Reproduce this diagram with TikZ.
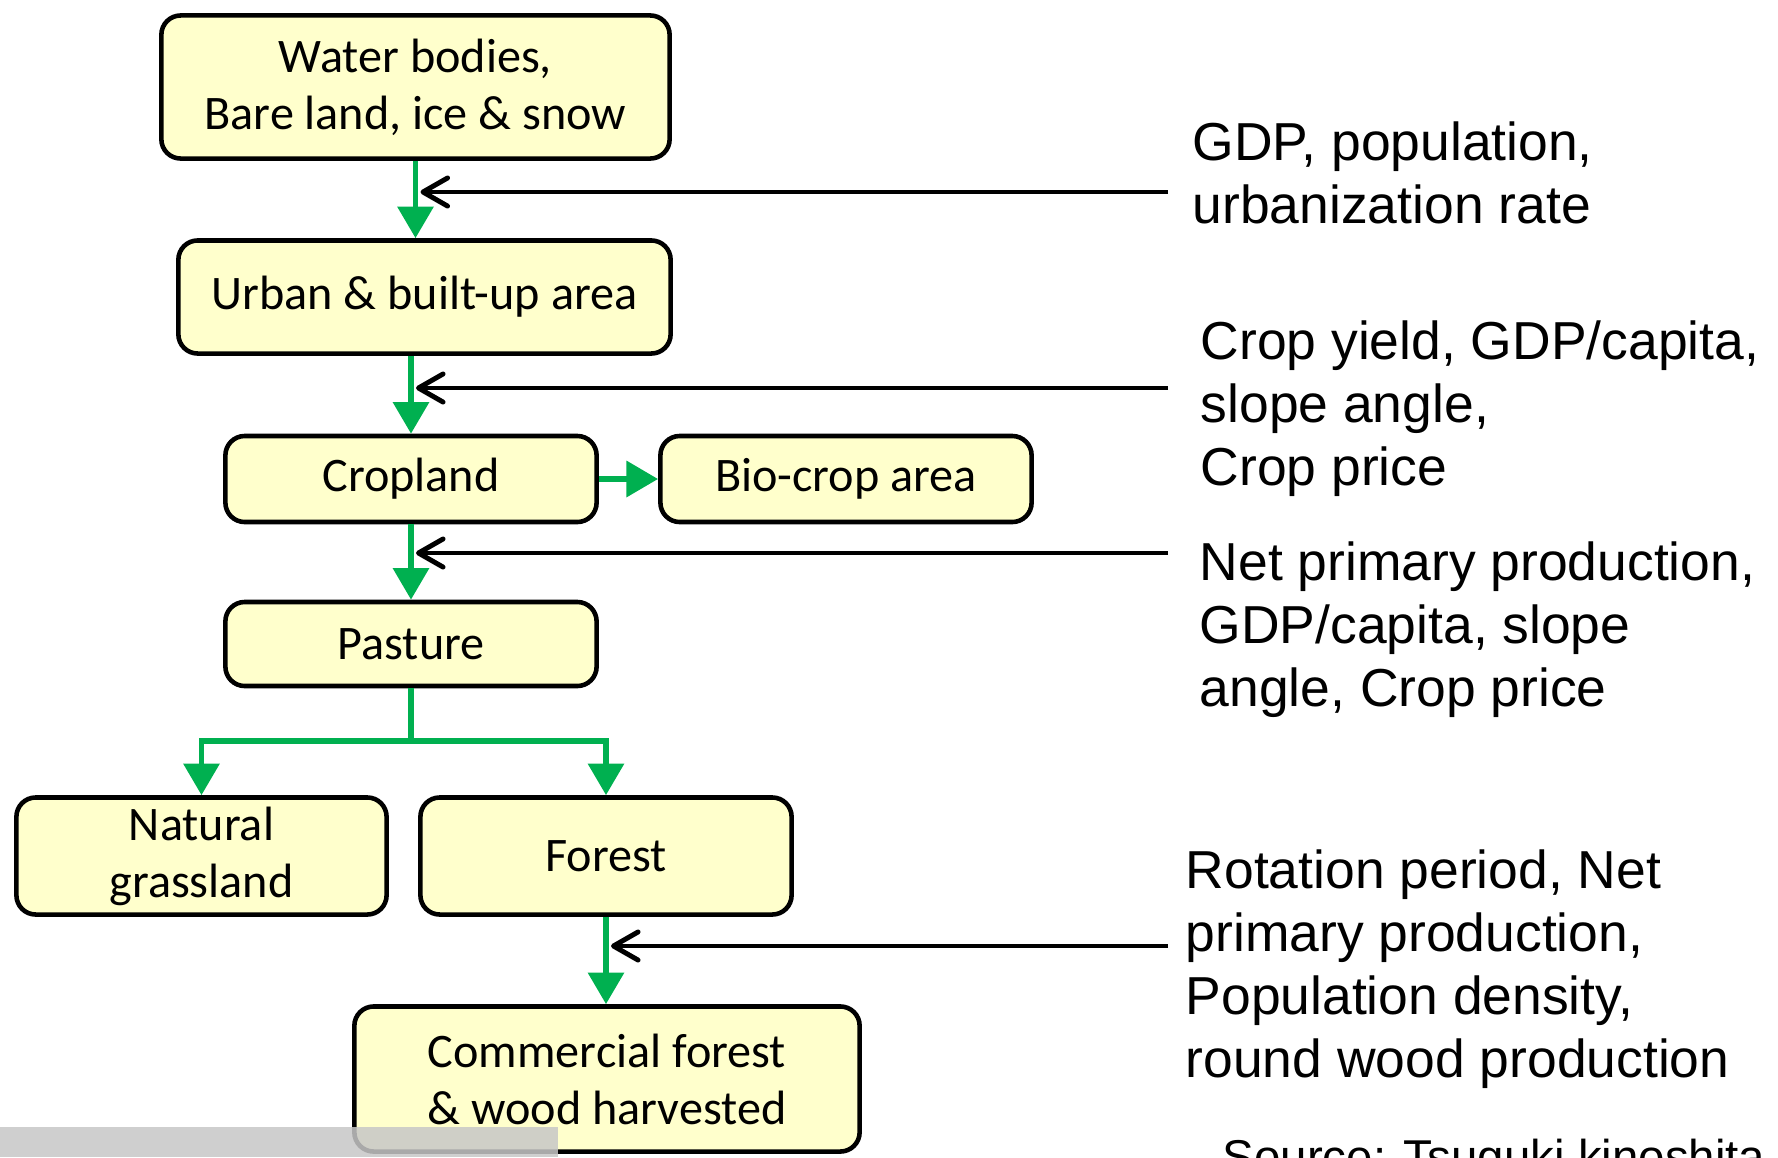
\documentclass[tikz,border=0pt]{standalone}
\usepackage{fontspec}
\setmainfont{Carlito}
\newfontfamily\arialfont{Liberation Sans}
\usetikzlibrary{arrows.meta}
\definecolor{boxfill}{RGB}{255,255,204}
\definecolor{flowgreen}{RGB}{0,176,80}

\begin{document}
\begin{tikzpicture}[x=0.01cm, y=-0.01cm,
		landbox/.style={draw, line width=1.3pt, rounded corners=5.5pt, fill=boxfill, align=center, inner sep=0pt, font=\fontsize{13.7}{16.2}\selectfont},
		flow/.style={draw=flowgreen, line width=1.7pt, -{Triangle[width=10pt,length=9pt]}},
		driver/.style={line width=1.4pt, -{Straight Barb[length=7pt,width=8pt,round]}},
		factor/.style={anchor=base west, align=left, inner sep=0pt, font=\arialfont\fontsize{15.2}{17.9}\selectfont}]

				\useasboundingbox (0,0) rectangle (1778,1157);

				\node [landbox, minimum width=5.08cm, minimum height=1.43cm] (water) at (415.5, 87) {Water bodies,\\Bare land, ice \& snow};
				\node [landbox, minimum width=4.92cm, minimum height=1.13cm] (urban) at (424.5, 297) {Urban \& built-up area};
				\node [landbox, minimum width=3.71cm, minimum height=0.86cm] (cropland) at (411, 479) {Cropland};
				\node [landbox, minimum width=3.71cm, minimum height=0.86cm] (biocrop) at (846, 479) {Bio-crop area};
				\node [landbox, minimum width=3.71cm, minimum height=0.84cm] (pasture) at (411, 644) {Pasture};
				\node [landbox, minimum width=3.70cm, minimum height=1.17cm] (grass) at (201.5, 856) {Natural\\grassland};
				\node [landbox, minimum width=3.71cm, minimum height=1.17cm] (forest) at (606, 856) {Forest};
				\node [landbox, minimum width=5.05cm, minimum height=1.45cm] (commercial) at (607, 1079) {Commercial forest\\\& wood harvested};

				\draw [flow] (water) -- (water |- urban.north);
				\draw [flow] (cropland |- urban.south) -- (cropland);
				\draw [flow] (cropland) -- (biocrop);
				\draw [flow] (cropland) -- (pasture);
				\coordinate (split) at (411, 741);
				\draw [flow] (pasture) -- (split) -| (grass);
				\draw [flow] (split) -| (forest);
				\draw [flow] (forest) -- (forest |- commercial.north);

				% base anchor sits on the last line
				\node [factor] (f1) at (1192, 223) {GDP, population,\\urbanization rate};
				\node [factor] (f2) at (1200, 485) {Crop yield, GDP/capita,\\slope angle,\\Crop price};
				\node [factor] (f3) at (1199, 706) {Net primary production,\\GDP/capita, slope\\angle, Crop price};
				\node [factor] (f4) at (1185, 1077) {Rotation period, Net\\primary production,\\Population density,\\round wood production};
				\node [factor, font=\arialfont\fontsize{13.5}{16}\selectfont] (source) at (1222, 1173) {Source: Tsuguki kinoshita};

				\coordinate (d1) at (1168, 192);
				\coordinate (d2) at (1168, 388);
				\coordinate (d3) at (1168, 553);
				\coordinate (d4) at (1168, 946);
				\draw [driver] (d1) -- ([xshift=0.05cm]d1 -| water);
				\draw [driver] (d2) -- ([xshift=0.05cm]d2 -| cropland);
				\draw [driver] (d3) -- ([xshift=0.05cm]d3 -| cropland);
				\draw [driver] (d4) -- ([xshift=0.05cm]d4 -| forest);

				\fill [black!22, opacity=0.85] (0, 1127) rectangle (558, 1157);
		\end{tikzpicture}
\end{document}
